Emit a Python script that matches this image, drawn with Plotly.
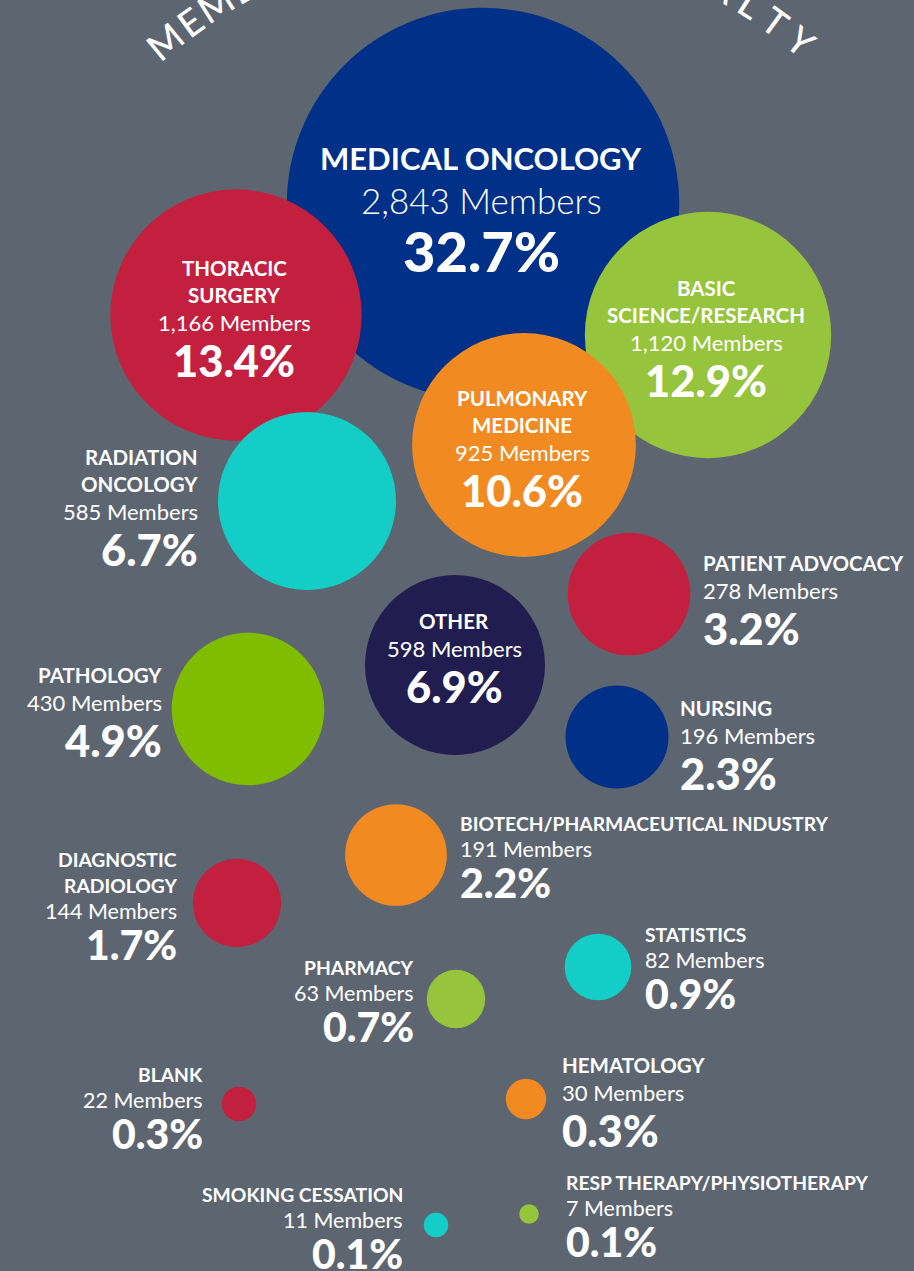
import math
import plotly.graph_objects as go

# ---------------- data ----------------
specialties = [
    "MEDICAL ONCOLOGY", "THORACIC SURGERY", "BASIC SCIENCE/RESEARCH", "PULMONARY MEDICINE",
    "RADIATION ONCOLOGY", "OTHER", "PATIENT ADVOCACY", "NURSING", "PATHOLOGY",
    "BIOTECH/PHARMACEUTICAL INDUSTRY", "DIAGNOSTIC RADIOLOGY", "STATISTICS", "PHARMACY",
    "BLANK", "HEMATOLOGY", "SMOKING CESSATION", "RESP THERAPY/PHYSIOTHERAPY",
]
name_lines = [
    ["MEDICAL ONCOLOGY"], ["THORACIC", "SURGERY"], ["BASIC", "SCIENCE/RESEARCH"],
    ["PULMONARY", "MEDICINE"], ["RADIATION", "ONCOLOGY"], ["OTHER"], ["PATIENT ADVOCACY"],
    ["NURSING"], ["PATHOLOGY"], ["BIOTECH/PHARMACEUTICAL INDUSTRY"], ["DIAGNOSTIC", "RADIOLOGY"],
    ["STATISTICS"], ["PHARMACY"], ["BLANK"], ["HEMATOLOGY"], ["SMOKING CESSATION"],
    ["RESP THERAPY/PHYSIOTHERAPY"],
]
members = [2843, 1166, 1120, 925, 585, 598, 278, 196, 430, 191, 144, 82, 63, 22, 30, 11, 7]
percents = ["32.7%", "13.4%", "12.9%", "10.6%", "6.7%", "6.9%", "3.2%", "2.3%", "4.9%",
            "2.2%", "1.7%", "0.9%", "0.7%", "0.3%", "0.3%", "0.1%", "0.1%"]
title_text = "MEMBERSHIP BY SPECIALTY"

# ---------------- layout (positions / styles) ----------------
W, H = 914, 1271
BG = "#5d6670"
FONT = "Lato"

bubble_x = [483, 236, 708, 524, 307, 455, 629, 617, 248, 396, 237, 598, 456, 239, 526, 436, 529]
bubble_y = [204, 315, 335, 445, 501, 665, 594, 737, 709, 855, 903, 967, 999, 1104, 1099, 1225, 1214]
bubble_colors = ["#003087", "#c3203f", "#97c43d", "#f08a21", "#13cdc6", "#221d50", "#c3203f",
                 "#003087", "#80bc00", "#f08a21", "#c3203f", "#13cdc6", "#97c43d", "#c3203f",
                 "#f08a21", "#13cdc6", "#97c43d"]
px_per_sqrt_member = 3.68  # bubble radius in px per sqrt(member)

label_x = [481, 234, 706, 522, 199, 454, 702, 679, 163, 459, 178, 644, 415, 204, 561, 404, 565]
label_align = ["center", "center", "center", "center", "right", "center", "left", "left", "right",
               "left", "right", "left", "right", "right", "left", "right", "left"]
label_y0 = [158, 267.5, 287.5, 397.5, 456.5, 620.5, 563, 707.5, 675, 823.5, 859.5, 934.5,
            967.5, 1074, 1065, 1194.5, 1182.5]
label_class = ["xl", "m", "m", "m", "m", "m", "m", "m", "m", "s", "s", "s", "s", "s", "m", "s", "s"]
styles = {
    "xl": dict(name_fs=31, mem_fs=35, mem_w=300, pct_fs=56, step=42, gap=50),
    "m": dict(name_fs=20.5, mem_fs=22, mem_w=400, pct_fs=43.5, step=27.5, gap=37.5),
    "s": dict(name_fs=19.3, mem_fs=21.5, mem_w=400, pct_fs=41, step=25.5, gap=33.5),
}

fig = go.Figure()

max_r = px_per_sqrt_member * math.sqrt(max(members))
sizeref = max(members) / (2 * max_r ** 2)
fig.add_trace(go.Scatter(
    x=bubble_x, y=bubble_y, mode="markers",
    marker=dict(size=members, sizemode="area", sizeref=sizeref, color=bubble_colors,
                line=dict(width=0), opacity=1),
    text=specialties, hoverinfo="skip", showlegend=False, cliponaxis=False,
))

annotations = []
for i in range(len(specialties)):
    st = styles[label_class[i]]
    y = label_y0[i]
    lines = []
    for nl in name_lines[i]:
        lines.append((nl, st["name_fs"], 700, y))
        y += st["step"]
    lines.append((f"{members[i]:,} Members", st["mem_fs"], st["mem_w"], y))
    y += st["gap"]
    lines.append((percents[i], st["pct_fs"], 900, y))
    for txt, fs, wt, yy in lines:
        annotations.append(dict(
            x=label_x[i], y=yy, xref="x", yref="y", text=txt, showarrow=False,
            xanchor=label_align[i], yanchor="middle", borderpad=0,
            font=dict(family=FONT, size=fs, color="white", weight=wt),
        ))

# curved title along an arc (mostly cropped at top of the canvas)
arc_cx, arc_cy, arc_r = 483, 426, 500
n = len(title_text)
for k, ch in enumerate(title_text):
    if ch == " ":
        continue
    theta = -39.5 + k * 79 / (n - 1)
    t = math.radians(theta)
    px = arc_cx + arc_r * math.sin(t)
    py = arc_cy - arc_r * math.cos(t)
    annotations.append(dict(
        x=px / W, y=1 - py / H, xref="paper", yref="paper", text=ch, showarrow=False,
        xanchor="center", yanchor="middle", textangle=theta, borderpad=0,
        font=dict(family=FONT, size=37, color="white", weight=500),
    ))

fig.update_layout(
    width=W, height=H, margin=dict(l=0, r=0, t=0, b=0),
    paper_bgcolor=BG, plot_bgcolor=BG,
    xaxis=dict(range=[0, W], visible=False, fixedrange=True),
    yaxis=dict(range=[H, 0], visible=False, fixedrange=True),
    annotations=annotations, showlegend=False,
)

fig.write_html("out.html", config={"displayModeBar": False},
               post_script="document.body.style.margin='0';document.body.style.background='%s';" % BG)
